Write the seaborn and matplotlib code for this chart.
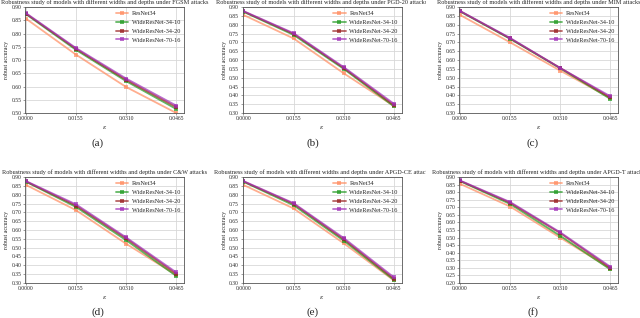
import pandas as pd
import matplotlib.pyplot as plt
import seaborn as sns
from matplotlib.transforms import Bbox, TransformedBbox

# data
eps = [0.0, 0.0155, 0.0310, 0.0465]
eps_labels = ['0.0000', '0.0155', '0.0310', '0.0465']
models = ['ResNet34', 'WideResNet-34-10', 'WideResNet-34-20', 'WideResNet-70-16']
attacks = ['FGSM', 'PGD-20', 'MIM', 'C&W', 'APGD-CE', 'APGD-T']
panel_tags = ['(a)', '(b)', '(c)', '(d)', '(e)', '(f)']
y_lows = [0.50, 0.30, 0.30, 0.30, 0.30, 0.20]

fgsm = [[0.856, 0.720, 0.598, 0.500],
        [0.873, 0.738, 0.620, 0.515],
        [0.875, 0.742, 0.625, 0.522],
        [0.877, 0.745, 0.630, 0.528]]
pgd20 = [[0.855, 0.722, 0.525, 0.340],
         [0.873, 0.742, 0.550, 0.338],
         [0.875, 0.748, 0.555, 0.345],
         [0.877, 0.752, 0.560, 0.353]]
mim = [[0.855, 0.700, 0.540, 0.385],
       [0.875, 0.720, 0.553, 0.380],
       [0.877, 0.722, 0.555, 0.388],
       [0.878, 0.725, 0.555, 0.395]]
cw = [[0.855, 0.712, 0.522, 0.345],
      [0.873, 0.730, 0.542, 0.340],
      [0.875, 0.738, 0.552, 0.352],
      [0.877, 0.745, 0.558, 0.360]]
apgd_ce = [[0.855, 0.722, 0.525, 0.315],
           [0.873, 0.740, 0.540, 0.318],
           [0.875, 0.748, 0.548, 0.325],
           [0.877, 0.752, 0.555, 0.333]]
apgd_t = [[0.855, 0.705, 0.500, 0.295],
          [0.873, 0.722, 0.512, 0.290],
          [0.875, 0.730, 0.530, 0.300],
          [0.877, 0.735, 0.535, 0.308]]
all_results = [fgsm, pgd20, mim, cw, apgd_ce, apgd_t]

palette = {'ResNet34': '#ff8c60', 'WideResNet-34-10': '#1f9a1f',
           'WideResNet-34-20': '#9a1f1f', 'WideResNet-70-16': '#a030b8'}

sns.set_style('whitegrid', {'axes.edgecolor': '#555555', 'grid.color': '#d8d8d8',
                            'xtick.bottom': True, 'ytick.left': True})
plt.rcParams['font.family'] = ['Liberation Serif', 'DejaVu Serif']
plt.rcParams['mathtext.fontset'] = 'dejavuserif'

fig = plt.figure(figsize=(6.4, 3.18), dpi=100)

lefts = [25 / 640, 242.5 / 640, 459 / 640]
bottoms = [(318 - 113) / 318, (318 - 283) / 318]
w, h = 159 / 640, 106 / 318
col_edges = [0, 213 / 640, 426 / 640, 1.0]

for k in range(6):
    r, c = divmod(k, 3)
    ax = fig.add_axes([lefts[c], bottoms[r], w, h])
    rows = []
    for m, vals in zip(models, all_results[k]):
        for e, v in zip(eps, vals):
            rows.append({'eps': e, 'acc': v, 'model': m})
    df = pd.DataFrame(rows)
    sns.lineplot(data=df, x='eps', y='acc', hue='model', palette=palette,
                 marker='s', markersize=2.2, markeredgewidth=0, linewidth=1.3,
                 alpha=0.7, ax=ax)
    ax.set_xlim(-0.0003, 0.0489)
    ax.set_ylim(y_lows[k], 0.90)
    ax.set_xticks(eps)
    ax.set_xticklabels(eps_labels)
    yt = [round(y_lows[k] + 0.05 * i, 2) for i in range(int(round((0.90 - y_lows[k]) / 0.05)) + 1)]
    ax.set_yticks(yt)
    ax.set_yticklabels([f'{v:.2f}' for v in yt])
    ax.tick_params(labelsize=4.0, length=1.5, width=0.4, pad=1, color='#555555')
    for s in ax.spines.values():
        s.set_linewidth(0.6)
    ax.grid(linewidth=0.6)
    ax.set_xlabel(r'$\varepsilon$', fontsize=4.5, labelpad=1.5)
    ax.set_ylabel('robust accuracy', fontsize=4.3, labelpad=1.5)
    t = ax.set_title(f'Robustness study of models with different widths and depths under {attacks[k]} attacks',
                     fontsize=4.5, pad=2.5)
    clip = TransformedBbox(Bbox([[col_edges[c], 0], [col_edges[c + 1], 1]]), fig.transFigure)
    t.set_clip_box(clip)
    t.set_clip_on(True)
    leg = ax.legend(loc='upper right', frameon=False, fontsize=4.5, handlelength=2.0,
                    handletextpad=0.6, labelspacing=0.55, borderaxespad=0.2,
                    bbox_to_anchor=(1.0, 1.0))
    for line in leg.get_lines():
        line.set_linewidth(1.3)
        line.set_alpha(0.7)
    cap_y = [143, 312][r]
    cap_x = [98, 313, 533][c]
    fig.text(cap_x / 640, 1 - cap_y / 318, panel_tags[k], fontsize=8, ha='center', va='center')

fig.savefig('out.png', dpi=100)
